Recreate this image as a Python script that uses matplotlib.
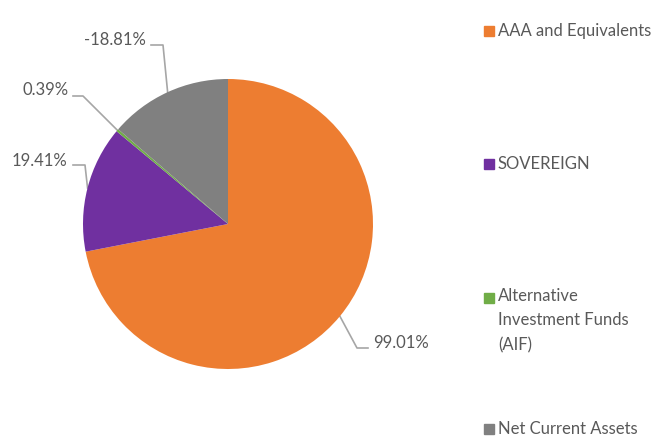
import matplotlib.pyplot as plt
import matplotlib.patches as mpatches
import numpy as np

plt.rcParams['font.family'] = ['Lato', 'DejaVu Sans']

categories = ['AAA and Equivalents', 'SOVEREIGN',
              'Alternative\nInvestment Funds\n(AIF)', 'Net Current Assets']
values = [99.01, 19.41, 0.39, -18.81]
labels = ['99.01%', '19.41%', '0.39%', '-18.81%']
colors = ['#ED7D31', '#7030A0', '#70AD47', '#808080']

W, H = 656, 437
cx, cy, R = 228, 224, 145   # pie centre / radius in pixels
txt_col = '#595959'
line_col = '#A6A6A6'

fig = plt.figure(figsize=(W / 100, H / 100), dpi=100)
ax = fig.add_axes([(cx - R) / W, (H - cy - R) / H, 2 * R / W, 2 * R / H])

sizes = np.abs(values)
wedges, _ = ax.pie(sizes, colors=colors, startangle=90, counterclock=False,
                   radius=1, wedgeprops=dict(linewidth=0))
ax.set_xlim(-1, 1)
ax.set_ylim(-1, 1)
ax.set_aspect('equal')
ax.axis('off')


def px(x, y):
    return ((x - cx) / R, (cy - y) / R)


# label text anchor (pixels), ha, elbow points (pixels)
label_pos = [
    ((373, 343), 'left', [(368, 348), (357, 348)]),
    ((67, 161), 'right', [(73, 165), (85, 165)]),
    ((69, 90), 'right', [(73, 96), (83, 96)]),
    ((146, 40), 'right', [(151, 45), (163, 45)]),
]

for w, lab, (tp, ha, elbow) in zip(wedges, labels, label_pos):
    mid = np.deg2rad((w.theta1 + w.theta2) / 2)
    edge = (np.cos(mid), np.sin(mid))
    pts = [px(*p) for p in elbow] + [edge]
    xs, ys = zip(*pts)
    ax.plot(xs, ys, color=line_col, lw=1.2, clip_on=False, zorder=0)
    tx, ty = px(*tp)
    ax.text(tx, ty, lab, ha=ha, va='center', fontsize=12, color=txt_col)

# legend, laid out by hand like the original
leg_y = [31, 164, 298, 429]
for cat, col, y in zip(categories, colors, leg_y):
    fig.patches.append(mpatches.Rectangle((484 / W, (H - y - 5) / H), 10 / W, 10 / H,
                                          transform=fig.transFigure, color=col))
    if '\n' in cat:
        fig.text(498 / W, (H - y + 10) / H, cat, ha='left', va='top',
                 fontsize=12, color=txt_col, linespacing=1.65)
    else:
        fig.text(498 / W, (H - y) / H, cat, ha='left', va='center',
                 fontsize=12, color=txt_col)

fig.savefig('out.png', dpi=100)
